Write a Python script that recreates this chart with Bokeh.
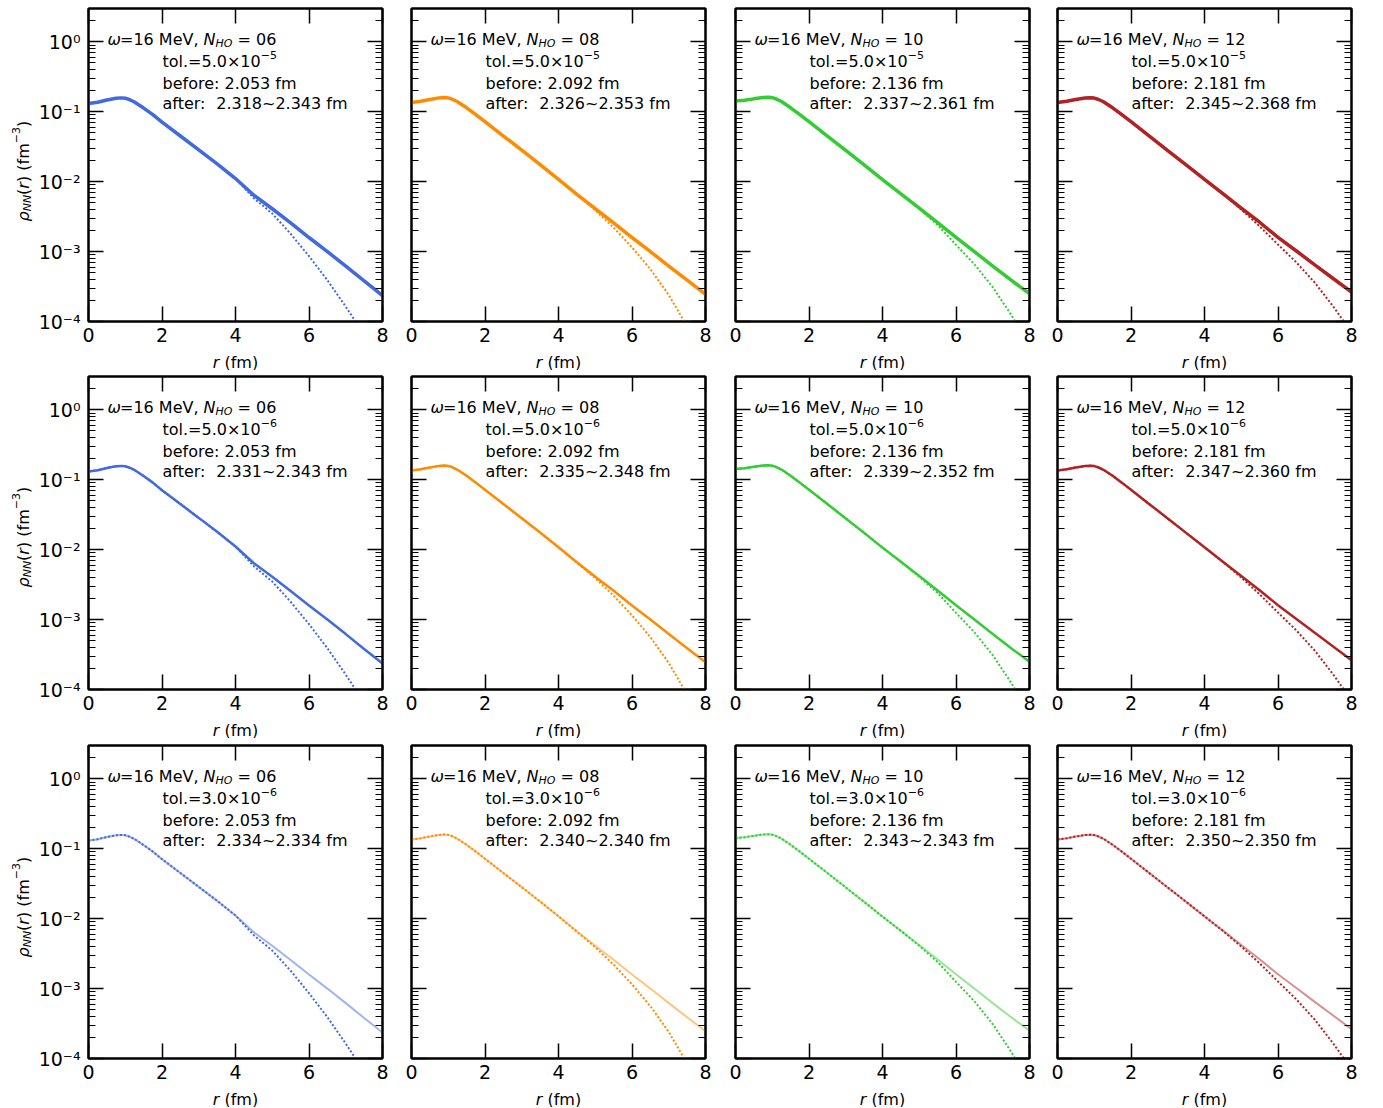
import math
from bokeh.plotting import figure
from bokeh.layouts import gridplot
from bokeh.models import (Range1d, Label, LinearAxis, LogAxis, LogTicker,
                          FixedTicker, CustomJSTickFormatter)
from bokeh.embed import file_html
from bokeh.resources import INLINE

# ---------------- data ----------------
r = [0.0, 0.25, 0.5, 0.75, 0.9, 1.0, 1.1, 1.25, 1.5, 1.75, 2.0, 2.5, 3.0, 3.5,
     4.0, 4.5, 5.0, 5.5, 6.0, 6.5, 7.0, 7.5, 8.0]

n_ho = ["06", "08", "10", "12"]
colors = ["#4169E1", "#FF8C00", "#32CD32", "#B22222"]

# "after" density (solid) per N_HO
after_06 = [0.131, 0.137, 0.147, 0.156, 0.158, 0.156, 0.150, 0.138, 0.113, 0.091,
            0.071, 0.045, 0.0285, 0.0180, 0.0111, 0.0064, 0.0041, 0.00257, 0.00159,
            0.00100, 0.00062, 0.00038, 0.000235]
after_08 = [0.136, 0.141, 0.150, 0.158, 0.160, 0.158, 0.152, 0.139, 0.114, 0.091,
            0.072, 0.045, 0.0282, 0.0176, 0.0108, 0.0066, 0.0041, 0.00258, 0.00159,
            0.00100, 0.00062, 0.00039, 0.000245]
after_10 = [0.143, 0.146, 0.153, 0.160, 0.161, 0.159, 0.153, 0.140, 0.114, 0.091,
            0.072, 0.045, 0.0280, 0.0174, 0.0107, 0.0067, 0.0042, 0.00260, 0.00160,
            0.00100, 0.00062, 0.00039, 0.000250]
after_12 = [0.136, 0.141, 0.150, 0.157, 0.159, 0.157, 0.151, 0.139, 0.114, 0.091,
            0.072, 0.0448, 0.0279, 0.0174, 0.0108, 0.00674, 0.0042, 0.00263, 0.00160,
            0.00102, 0.000646, 0.000412, 0.000263]

# "before" density (dotted) per N_HO
before_06 = [0.131, 0.137, 0.147, 0.156, 0.158, 0.156, 0.150, 0.138, 0.113, 0.091,
             0.071, 0.045, 0.0285, 0.0180, 0.0111, 0.0058, 0.0035, 0.0018, 0.00086,
             0.00039, 0.000163, 6.5e-5, 2.5e-5]
before_08 = [0.136, 0.141, 0.150, 0.158, 0.160, 0.158, 0.152, 0.139, 0.114, 0.091,
             0.072, 0.045, 0.0282, 0.0176, 0.0108, 0.0065, 0.0039, 0.0022, 0.00115,
             0.00056, 0.00024, 8.5e-5, 2.8e-5]
before_10 = [0.143, 0.146, 0.153, 0.160, 0.161, 0.159, 0.153, 0.140, 0.114, 0.091,
             0.072, 0.045, 0.0280, 0.0174, 0.0107, 0.0067, 0.0041, 0.0024, 0.00125,
             0.00066, 0.00031, 1.25e-4, 4.5e-5]
before_12 = [0.136, 0.141, 0.150, 0.157, 0.159, 0.157, 0.151, 0.139, 0.114, 0.091,
             0.072, 0.0448, 0.0279, 0.0174, 0.0108, 0.0067, 0.0040, 0.0023, 0.00126,
             0.00070, 0.00036, 1.65e-4, 7.0e-5]

after_sets = [after_06, after_08, after_10, after_12]
before_sets = [before_06, before_08, before_10, before_12]

tol_mant = ["5.0", "5.0", "3.0"]
tol_exp = ["\u22125", "\u22126", "\u22126"]
before_rms = ["2.053", "2.092", "2.136", "2.181"]
after_rms = [
    ["2.318~2.343", "2.326~2.353", "2.337~2.361", "2.345~2.368"],
    ["2.331~2.343", "2.335~2.348", "2.339~2.352", "2.347~2.360"],
    ["2.334~2.334", "2.340~2.340", "2.343~2.343", "2.350~2.350"],
]
x_ticks = [0, 2, 4, 6, 8]
x_lim = (0, 8)
y_lim = (1e-4, 3)

# ---------------- styling helpers ----------------
FONT = "DejaVu Sans"
W = {' ': .318, '(': .390, ')': .390, ',': .318, '.': .318, ':': .337,
     '=': .838, '~': .838, '\u00d7': .838, '\u2212': .838,
     'M': .863, 'N': .748, 'H': .752, 'O': .787, 'V': .684,
     'a': .613, 'b': .635, 'e': .615, 'f': .352, 'l': .278, 'm': .974,
     'o': .612, 'r': .411, 't': .392, '\u03c9': .781, '\u03c1': .635}
for d in "0123456789":
    W[d] = .636


def tw(s, size):
    return sum(W.get(c, 0.6) for c in s) * size


def rich(p, x, y, xo, yo, segs, angle=0.0, align="left"):
    total = sum(tw(t, sz) for t, sz, st, sh in segs)
    adv = -total / 2 if align == "center" else 0.0
    for t, sz, st, sh in segs:
        lead = len(t) - len(t.lstrip(' '))
        pos = adv + lead * W[' '] * sz
        if angle == 0:
            lx, ly = xo + pos, yo + sh
        else:
            lx, ly = xo - sh, yo + pos
        p.add_layout(Label(x=x, y=y, x_offset=lx, y_offset=ly, text=t.strip(),
                           text_font=FONT, text_font_size=f"{sz}px",
                           text_font_style=st, text_color="black",
                           text_baseline="alphabetic", text_align="left",
                           angle=angle))
        adv += tw(t, sz)


def style_axis(ax, show_labels):
    ax.axis_line_width = 2
    ax.axis_line_color = "black"
    ax.major_tick_in = 15
    ax.major_tick_out = 0
    ax.minor_tick_in = 7
    ax.minor_tick_out = 0
    ax.major_tick_line_width = 1.5
    ax.minor_tick_line_width = 1.2
    ax.major_tick_line_color = "black"
    ax.minor_tick_line_color = "black"
    ax.major_label_text_font = FONT
    ax.major_label_text_font_size = "19px"
    ax.major_label_text_color = "black"
    ax.axis_label = None
    if not show_labels:
        ax.formatter = CustomJSTickFormatter(code="return '';")
        ax.major_label_standoff = 0


def blank_fig(fw, fh, ml=0, mr=0):
    s = figure(frame_width=fw, frame_height=fh, x_range=Range1d(0, 1),
               y_range=Range1d(0, 1), output_backend="svg", toolbar_location=None,
               x_axis_location=None, y_axis_location=None,
               min_border_left=ml, min_border_right=mr,
               min_border_top=0, min_border_bottom=0)
    s.xgrid.visible = False
    s.ygrid.visible = False
    s.outline_line_color = None
    s.background_fill_color = "white"
    s.border_fill_color = "white"
    return s


LOG_FMT = """
const e = Math.round(Math.log10(tick));
const sup = {"-":"\u207b","0":"\u2070","1":"\u00b9","2":"\u00b2","3":"\u00b3",
             "4":"\u2074","5":"\u2075","6":"\u2076","7":"\u2077","8":"\u2078","9":"\u2079"};
return "10" + String(e).split("").map(c => sup[c]).join("");
"""

FW, FH = 294, 313
row_tops = [8, 6, 7]
BOT = 26
XL_H = 23
YL_W = 35
col_left = [53, 15, 15, 15]
col_right = [14, 15, 13, 20]
solid_w = [3.5, 2.5, 2.0]
solid_a = [1.0, 1.0, 0.5]

grid = []
for i in range(3):
    prow = []
    xrow = [None]
    # y label strip
    yl = blank_fig(YL_W, row_tops[i] + FH + BOT)
    rich(yl, 0, 0, 22.5, BOT + 108,
         [("\u03c1", 16, "italic", 0), ("NN", 11, "italic", -4),
          ("(", 16, "normal", 0), ("r", 16, "italic", 0), (")", 16, "normal", 0),
          (" (fm", 16, "normal", 0), ("\u22123", 11, "normal", 7),
          (")", 16, "normal", 0)],
         angle=math.pi / 2)
    prow.append(yl)
    for j in range(4):
        p = figure(frame_width=FW, frame_height=FH,
                   x_range=Range1d(*x_lim), y_range=Range1d(*y_lim),
                   y_axis_type="log", output_backend="svg", toolbar_location=None,
                   min_border_left=col_left[j], min_border_right=col_right[j],
                   min_border_top=row_tops[i], min_border_bottom=BOT)
        p.xgrid.visible = False
        p.ygrid.visible = False
        p.outline_line_color = "black"
        p.outline_line_width = 2
        p.background_fill_color = "white"
        p.border_fill_color = "white"

        p.xaxis.ticker = FixedTicker(ticks=x_ticks, minor_ticks=[])
        style_axis(p.xaxis[0], True)
        p.xaxis.major_label_standoff = 6
        p.yaxis.ticker = LogTicker(desired_num_ticks=6, num_minor_ticks=10)
        style_axis(p.yaxis[0], j == 0)
        if j == 0:
            p.yaxis.formatter = CustomJSTickFormatter(code=LOG_FMT)
            p.yaxis.major_label_standoff = 8

        top_ax = LinearAxis(ticker=FixedTicker(ticks=x_ticks, minor_ticks=[]))
        style_axis(top_ax, False)
        p.add_layout(top_ax, "above")
        right_ax = LogAxis(ticker=LogTicker(desired_num_ticks=6, num_minor_ticks=10))
        style_axis(right_ax, False)
        p.add_layout(right_ax, "right")

        c = colors[j]
        p.line(r, before_sets[j], line_color=c, line_width=2,
               line_dash="2 2", line_cap="butt")
        p.line(r, after_sets[j], line_color=c, line_width=solid_w[i],
               line_alpha=solid_a[i])

        top = y_lim[1]
        rich(p, 0, top, 19, -31.3, [("\u03c9", 16, "italic", 0),
                                    ("=16 MeV, ", 16, "normal", 0),
                                    ("N", 16, "italic", 0),
                                    ("HO", 11, "italic", -4),
                                    (" = " + n_ho[j], 16, "normal", 0)])
        rich(p, 0, top, 74, -53, [("tol.=" + tol_mant[i] + "\u00d710", 16, "normal", 0),
                                  (tol_exp[i], 11, "normal", 7)])
        rich(p, 0, top, 74, -74.5, [("before: " + before_rms[j] + " fm", 16, "normal", 0)])
        rich(p, 0, top, 74, -94.5, [("after:", 16, "normal", 0),
                                    ("  " + after_rms[i][j] + " fm", 16, "normal", 0)])
        prow.append(p)

        # x label strip
        xl = blank_fig(FW, XL_H, col_left[j], col_right[j])
        rich(xl, 0.5, 0, 0, 8.5, [("r", 16, "italic", 0), (" (fm)", 16, "normal", 0)],
             align="center")
        xrow.append(xl)
    grid.append(prow)
    grid.append(xrow)

layout = gridplot(grid, toolbar_location=None)
open("out.html", "w").write(file_html(layout, INLINE))
